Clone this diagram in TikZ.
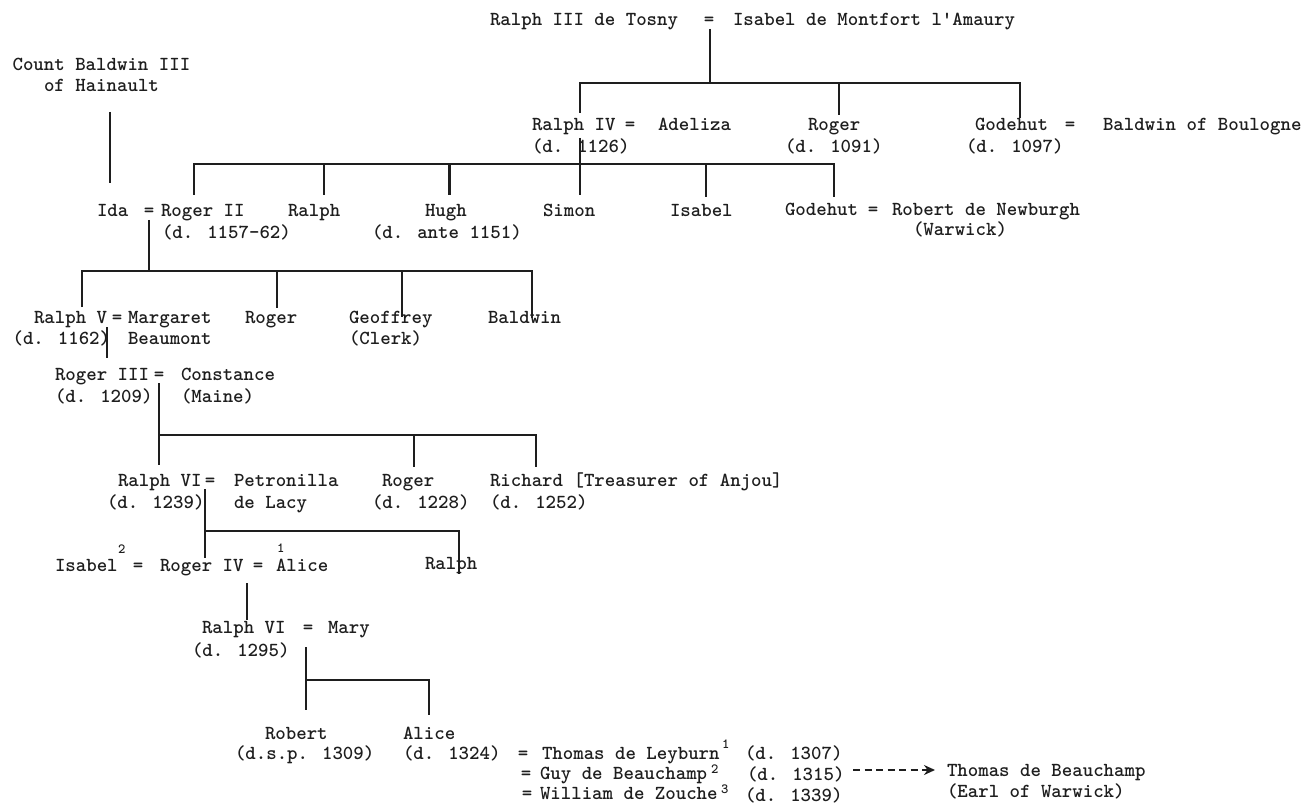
\documentclass[tikz,border=0pt]{standalone}
\usepackage{fontspec}
\usetikzlibrary{arrows.meta}
\definecolor{ink}{HTML}{1E1E1E}
\tikzset{
  tx/.style={anchor=base west, inner sep=0pt, outer sep=0pt, text=ink, font=\fontsize{19.9}{24}\selectfont\ttfamily\bfseries},
  eq/.style={anchor=base, inner sep=0pt, outer sep=0pt, text=ink, font=\fontsize{19.9}{24}\selectfont\ttfamily\bfseries},
  sup/.style={anchor=base west, inner sep=0pt, outer sep=0pt, text=ink, font=\fontsize{14}{16}\selectfont\ttfamily\bfseries},
  ln/.style={draw=ink, line width=2.4pt},
  bar/.style={draw=ink, line width=2.1pt},
  dasharrow/.style={draw=ink, line width=1.8pt, dash pattern=on 7pt off 4.5pt, -{Stealth[length=11pt,width=10pt]}},
}
\begin{document}
\begin{tikzpicture}[x=1pt,y=-1pt]
\useasboundingbox[fill=white] (0,0) rectangle (1309,805);

% ---------- Row A
\node[tx] (r3) at (490,26) {Ralph III de Tosny};
\node[eq] (eA) at (709,26) {=};
\node[tx] (isM) at (733,26) {Isabel de Montfort l'Amaury};

\node[tx] (cb1) at (12.6,71) {Count Baldwin III};
\node[tx] (cb2) at (44,92) {of Hainault};

% ---------- Row B
\node[tx] (r4) at (532,131) {Ralph IV};
\node[eq] (eB) at (630,131) {=};
\node[tx] (adel) at (658,131) {Adeliza};
\node[tx] (r4d) at (532,153) {(d. 1126)};
\node[tx] (rog1) at (808,131) {Roger};
\node[tx] (rog1d) at (785,153) {(d. 1091)};
\node[tx] (god1) at (975,131) {Godehut};
\node[eq] (eB2) at (1070,131) {=};
\node[tx] (bald) at (1103,131) {Baldwin of Boulogne};
\node[tx] (god1d) at (966,153) {(d. 1097)};

% ---------- Row C
\node[tx] (ida) at (97,217) {Ida};
\node[eq] (eC) at (149,217) {=};
\node[tx] (rog2) at (161,217) {Roger II};
\node[tx] (rog2d) at (162,239) {(d. 1157-62)};
\node[tx] (ralC) at (288,217) {Ralph};
\node[tx] (hugh) at (425,217) {Hugh};
\node[tx] (hughd) at (372,239) {(d. ante 1151)};
\node[tx] (simon) at (543,217) {Simon};
\node[tx] (isC) at (670,217) {Isabel};
\node[tx] (god2) at (785,216) {Godehut};
\node[eq] (eC2) at (873,216) {=};
\node[tx] (robN) at (892,216) {Robert de Newburgh};
\node[tx] (warw) at (913,236) {(Warwick)};

% ---------- Row D
\node[tx] (r5) at (34,323) {Ralph V};
\node[eq] (eD) at (117,323) {=};
\node[tx] (marg) at (128,323) {Margaret};
\node[tx] (r5d) at (12.6,344) {(d. 1162)};
\node[tx] (beau) at (128,344) {Beaumont};
\node[tx] (rogD) at (245,323) {Roger};
\node[tx] (geof) at (349,323) {Geoffrey};
\node[tx] (clerk) at (349,344) {(Clerk)};
\node[tx] (baldD) at (488,323) {Baldwin};

% ---------- Row E
\node[tx] (rog3) at (55,380) {Roger III};
\node[eq] (eE) at (159,380) {=};
\node[tx] (const) at (181,380) {Constance};
\node[tx] (rog3d) at (55,402) {(d. 1209)};
\node[tx] (maine) at (181,402) {(Maine)};

% ---------- Row F
\node[tx] (r6) at (118,486) {Ralph VI};
\node[eq] (eF) at (210,486) {=};
\node[tx] (petr) at (234,486) {Petronilla};
\node[tx] (r6d) at (107,508) {(d. 1239)};
\node[tx] (lacy) at (234,508) {de Lacy};
\node[tx] (rogF) at (382,486) {Roger};
\node[tx] (rogFd) at (372,508) {(d. 1228)};
\node[tx] (rich) at (490,486) {Richard [Treasurer of Anjou]};
\node[tx] (richd) at (490,508) {(d. 1252)};

% ---------- Row G
\node[tx] (isG) at (55,571) {Isabel};
\node[sup] (s2) at (118,553) {2};
\node[eq] (eG1) at (138,571) {=};
\node[tx] (rog4) at (160,571) {Roger IV};
\node[eq] (eG2) at (258,571) {=};
\node[sup] (s1) at (277,552) {1};
\node[tx] (alice1) at (276,571) {Alice};
\node[tx] (ralG) at (425,569) {Ralph};

% ---------- Row H
\node[tx] (r6b) at (202,633) {Ralph VI};
\node[eq] (eH) at (308,633) {=};
\node[tx] (mary) at (328,633) {Mary};
\node[tx] (r6bd) at (192,656) {(d. 1295)};

% ---------- Row I
\node[tx] (rob) at (265,739) {Robert};
\node[tx] (robd) at (235,759) {(d.s.p. 1309)};
\node[tx] (alice2) at (403,739) {Alice};
\node[tx] (alice2d) at (403,759) {(d. 1324)};
\node[eq] (eI1) at (523,759) {=};
\node[tx] (thom) at (542,759) {Thomas de Leyburn};
\node[sup] (s3) at (722,748) {1};
\node[tx] (thomd) at (745,759) {(d. 1307)};
\node[eq] (eI2) at (526,779) {=};
\node[tx] (guy) at (540,779) {Guy de Beauchamp};
\node[sup] (s4) at (711,773) {2};
\node[tx] (guyd) at (747,780) {(d. 1315)};
\node[eq] (eI3) at (527,799) {=};
\node[tx] (will) at (540,799) {William de Zouche};
\node[sup] (s5) at (721,793) {3};
\node[tx] (willd) at (745,801) {(d. 1339)};
\node[tx] (tb) at (947,776) {Thomas de Beauchamp};
\node[tx] (earl) at (947,797) {(Earl of Warwick)};

% ---------- junction coordinates
\coordinate (A0) at (710,29);  \coordinate (A1) at (710,83);
\coordinate (A2) at (580,113); \coordinate (A3) at (1020,118);
\coordinate (A4) at (839,83);  \coordinate (A5) at (839,115);
\coordinate (K0) at (110,112); \coordinate (K1) at (110,183);
\coordinate (B0) at (580,138); \coordinate (B1) at (580,195);
\coordinate (B2) at (194,195); \coordinate (B3) at (834,197);
\coordinate (B4) at (324,164); \coordinate (B5) at (324,195);
\coordinate (B6) at (449.5,164); \coordinate (B7) at (449.5,195);
\coordinate (B8) at (706,164); \coordinate (B9) at (706,197);
\coordinate (C0) at (149,220); \coordinate (C1) at (149,271);
\coordinate (C2) at (82,307);  \coordinate (C3) at (532,318);
\coordinate (C4) at (277,271); \coordinate (C5) at (277,308);
\coordinate (C6) at (402,271); \coordinate (C7) at (402,317);
\coordinate (D0) at (107,327); \coordinate (D1) at (107,358);
\coordinate (E0) at (159,383); \coordinate (E1) at (159,465);
\coordinate (E2) at (159,435); \coordinate (E3) at (536,467);
\coordinate (E4) at (414,435); \coordinate (E5) at (414,467);
\coordinate (F0) at (205,489); \coordinate (F1) at (205,558);
\coordinate (F2) at (205,531); \coordinate (F3) at (459,574);
\coordinate (G0) at (247,583); \coordinate (G1) at (247,620);
\coordinate (H0) at (306,647); \coordinate (H1) at (306,710);
\coordinate (H2) at (306,680); \coordinate (H3) at (429,715);
\coordinate (I0) at (853,770); \coordinate (I1) at (935,770);

% ---------- connectors
\draw[ln] (A0) -- (A1);
\draw[bar] (A2) |- (A1) -| (A3);
\draw[ln] (A4) -- (A5);
\draw[ln] (K0) -- (K1);

\draw[ln] (B0) -- (B1);
\draw[bar] (B2) |- (B0 |- B4) -| (B3);
\draw[ln] (B4) -- (B5);
\draw[ln] (B6) -- (B7);
\draw[ln] (B8) -- (B9);

\draw[ln] (C0) -- (C1);
\draw[bar] (C2) |- (C1) -| (C3);
\draw[ln] (C4) -- (C5);
\draw[ln] (C6) -- (C7);

\draw[ln] (D0) -- (D1);

\draw[ln] (E0) -- (E1);
\draw[bar] (E2) -| (E3);
\draw[ln] (E4) -- (E5);

\draw[ln] (F0) -- (F1);
\draw[bar] (F2) -| (F3);

\draw[ln] (G0) -- (G1);

\draw[ln] (H0) -- (H1);
\draw[bar] (H2) -| (H3);

\draw[dasharrow] (I0) -- (I1);
\end{tikzpicture}
\end{document}
